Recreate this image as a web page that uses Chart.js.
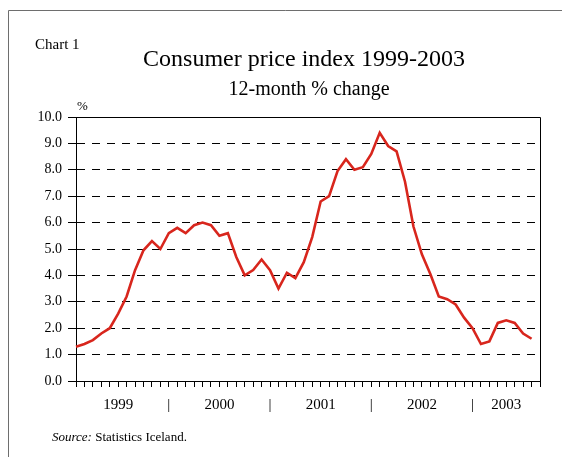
<!DOCTYPE html>
<html>
<head>
<meta charset="utf-8">
<script src="https://cdn.jsdelivr.net/npm/chart.js@4.4.0/dist/chart.umd.min.js"></script>
<style>
  html, body { margin: 0; padding: 0; background: #fff; }
</style>
</head>
<body>
<canvas id="cpi" width="562" height="457"></canvas>
<script>
// months on the category axis (the last one is empty, the axis runs one month past the data)
const months = [
    'Jan 1999', 'Feb 1999', 'Mar 1999', 'Apr 1999', 'May 1999', 'Jun 1999', 'Jul 1999', 'Aug 1999', 'Sep 1999', 'Oct 1999', 'Nov 1999', 'Dec 1999',
    'Jan 2000', 'Feb 2000', 'Mar 2000', 'Apr 2000', 'May 2000', 'Jun 2000', 'Jul 2000', 'Aug 2000', 'Sep 2000', 'Oct 2000', 'Nov 2000', 'Dec 2000',
    'Jan 2001', 'Feb 2001', 'Mar 2001', 'Apr 2001', 'May 2001', 'Jun 2001', 'Jul 2001', 'Aug 2001', 'Sep 2001', 'Oct 2001', 'Nov 2001', 'Dec 2001',
    'Jan 2002', 'Feb 2002', 'Mar 2002', 'Apr 2002', 'May 2002', 'Jun 2002', 'Jul 2002', 'Aug 2002', 'Sep 2002', 'Oct 2002', 'Nov 2002', 'Dec 2002',
    'Jan 2003', 'Feb 2003', 'Mar 2003', 'Apr 2003', 'May 2003', 'Jun 2003', 'Jul 2003', 'Aug 2003'
]

// 12-month % change
const cpiChange = [
    1.3, 1.4, 1.55, 1.8, 2.0, 2.55, 3.2, 4.2, 4.95, 5.3, 5.0, 5.6,
    5.8, 5.6, 5.9, 6.0, 5.9, 5.5, 5.6, 4.7, 4.0, 4.2, 4.6, 4.2,
    3.5, 4.1, 3.9, 4.5, 5.45, 6.8, 7.0, 7.95, 8.4, 8.0, 8.1, 8.6,
    9.4, 8.9, 8.7, 7.55, 5.85, 4.8, 4.05, 3.2, 3.1, 2.9, 2.4, 2.0,
    1.4, 1.5, 2.2, 2.3, 2.2, 1.8, 1.6
]

// year labels and the month they sit under, plus the year separators
const yearLabels = ['1999', '2000', '2001', '2002', '2003']
const yearLabelMonths = ['Jun 1999', 'Jun 2000', 'Jun 2001', 'Jun 2002', 'Apr 2003']
const yearBreakMonths = ['Dec 1999', 'Dec 2000', 'Dec 2001', 'Dec 2002']

const SERIF = '"Liberation Serif", "Times New Roman", serif'

// frame, captions and the top / right edges of the plot box
const decorations = {
    id: 'decorations',
    beforeDraw(chart) {
        const { ctx } = chart
        ctx.save()
        ctx.strokeStyle = '#6e6e6e'
        ctx.lineWidth = 1
        ctx.beginPath()
        ctx.moveTo(8.5, 457)
        ctx.lineTo(8.5, 10.5)
        ctx.lineTo(562, 10.5)
        ctx.stroke()
        ctx.restore()
    },
    afterDraw(chart) {
        const { ctx, chartArea } = chart
        const { top, right, left } = chartArea
        ctx.save()
        ctx.strokeStyle = '#000'
        ctx.lineWidth = 1
        ctx.beginPath()
        ctx.moveTo(Math.round(left) + 0.5, Math.round(top) + 0.5)
        ctx.lineTo(Math.round(right) + 0.5, Math.round(top) + 0.5)
        ctx.lineTo(Math.round(right) + 0.5, chartArea.bottom)
        ctx.stroke()

        ctx.fillStyle = '#000'
        ctx.textBaseline = 'alphabetic'
        ctx.textAlign = 'left'
        ctx.font = '15px ' + SERIF
        ctx.fillText('Chart 1', 35, 49)

        ctx.textAlign = 'center'
        ctx.font = '24px ' + SERIF
        ctx.fillText('Consumer price index 1999-2003', 304, 65.5)
        ctx.font = '20px ' + SERIF
        ctx.fillText('12-month % change', 309, 95)

        ctx.textAlign = 'left'
        ctx.font = '13px ' + SERIF
        ctx.fillText('%', 77, 110)

        ctx.font = 'italic 13px ' + SERIF
        ctx.fillText('Source:', 52, 441)
        const w = ctx.measureText('Source: ').width
        ctx.font = '13px ' + SERIF
        ctx.fillText('Statistics Iceland.', 52 + w, 441)
        ctx.restore()
    }
}

const chart = new Chart(document.getElementById('cpi'), {
    type: 'line',
    data: {
        labels: months,
        datasets: [{
            data: cpiChange,
            borderColor: '#d8261d',
            borderWidth: 2.6,
            pointRadius: 0,
            tension: 0,
            fill: false
        }]
    },
    options: {
        responsive: false,
        animation: false,
        layout: {
            padding: { left: 0, right: 22, top: 117, bottom: 0 }
        },
        scales: {
            x: {
                type: 'category',
                offset: false,
                afterFit(scale) { scale.height = 76 },
                border: { display: true, color: '#000', width: 1 },
                grid: {
                    drawOnChartArea: false,
                    drawTicks: true,
                    tickLength: 6,
                    tickColor: '#000',
                    tickWidth: 1,
                    offset: false
                },
                ticks: {
                    autoSkip: false,
                    maxRotation: 0,
                    minRotation: 0,
                    padding: 9,
                    color: '#000',
                    font: { family: SERIF, size: 15 },
                    callback(value, index) {
                        const m = months[index]
                        const y = yearLabelMonths.indexOf(m)
                        if (y !== -1) return yearLabels[y]
                        if (yearBreakMonths.includes(m)) return '|'
                        return ''
                    }
                }
            },
            y: {
                min: 0,
                max: 10,
                afterFit(scale) { scale.width = 76 },
                // NOTE : in v4 the dash of the grid lines lives under border.dash
                border: { display: true, color: '#000', width: 1, dash: [8, 7] },
                grid: {
                    color(ctx) {
                        const v = ctx.tick && ctx.tick.value
                        return (v === 0 || v === 10) ? 'rgba(0,0,0,0)' : '#000'
                    },
                    lineWidth: 1,
                    tickBorderDash: [],
                    tickColor: '#000',
                    tickLength: 8,
                    tickWidth: 1
                },
                ticks: {
                    stepSize: 1,
                    padding: 6,
                    color: '#000',
                    font: { family: SERIF, size: 14 },
                    callback(value) { return value.toFixed(1) }
                }
            }
        },
        plugins: {
            legend: { display: false },
            tooltip: { enabled: false },
            title: { display: false }
        }
    },
    plugins: [decorations]
})
</script>
</body>
</html>
